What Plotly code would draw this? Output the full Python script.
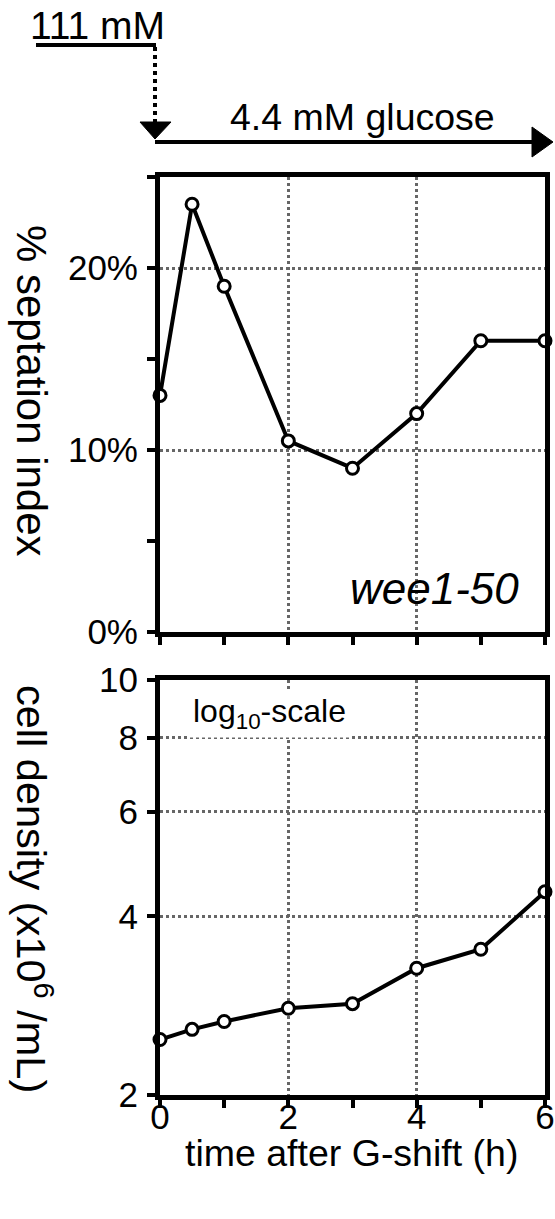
import plotly.graph_objects as go
import math

# ---- data ----
time_h = [0, 0.5, 1, 2, 3, 4, 5, 6]
septation_pct = [13, 23.5, 19, 10.5, 9, 12, 16, 16]
cell_density = [2.48, 2.58, 2.66, 2.80, 2.85, 3.27, 3.52, 4.40]

sept_tickvals = [0, 10, 20]
sept_ticktext = ["0%", "10%", "20%"]
dens_tickvals = [2, 4, 6, 8, 10]
dens_ticktext = ["2", "4", "6", "8", "10"]
time_tickvals = [0, 2, 4, 6]
time_ticktext = ["0", "2", "4", "6"]

FONT = "Liberation Sans, Arial, Helvetica, sans-serif"
W, H = 555, 1219
L, R, T, B = 160, 10, 177, 124
PW, PH = W - L - R, H - T - B


def px(xp):
    return (xp - L) / PW


def py(yp):
    return (H - B - yp) / PH


line_style = dict(color="black", width=4)
marker_style = dict(symbol="circle", size=12, color="white", line=dict(color="black", width=3))

fig = go.Figure()
fig.add_trace(go.Scatter(x=time_h, y=septation_pct, mode="lines+markers", line=line_style,
                         marker=marker_style, xaxis="x", yaxis="y", cliponaxis=False,
                         showlegend=False))
fig.add_trace(go.Scatter(x=time_h, y=cell_density, mode="lines+markers", line=line_style,
                         marker=marker_style, xaxis="x2", yaxis="y2", cliponaxis=False,
                         showlegend=False))

axis_common = dict(showline=True, linecolor="black", linewidth=5, mirror=True,
                   ticks="outside", ticklen=8, tickwidth=4, tickcolor="black",
                   gridcolor="#666666", gridwidth=3, griddash="dot", zeroline=False,
                   automargin=False,
                   tickfont=dict(family=FONT, size=35, color="black"))

minor_x = dict(dtick=1, tick0=0, ticks="outside", ticklen=8, tickwidth=4,
               tickcolor="black", showgrid=False)

top_dom = [py(632), 1]
bot_dom = [0, py(680)]

fig.update_layout(
    width=W, height=H,
    margin=dict(l=L, r=R, t=T, b=B, autoexpand=False),
    paper_bgcolor="white", plot_bgcolor="white",
    font=dict(family=FONT, color="black"),
    xaxis=dict(axis_common, anchor="y", domain=[0, 1], range=[0, 6], tickvals=time_tickvals,
               showticklabels=False, showgrid=True, minor=minor_x),
    yaxis=dict(axis_common, anchor="x", domain=top_dom, range=[0, 25], tickvals=sept_tickvals,
               ticktext=sept_ticktext, showgrid=True, ticklabelstandoff=2,
               minor=dict(dtick=5, tick0=0, ticks="outside", ticklen=8, tickwidth=4,
                          tickcolor="black", showgrid=False)),
    xaxis2=dict(axis_common, anchor="y2", domain=[0, 1], range=[0, 6], tickvals=time_tickvals,
                ticktext=time_ticktext, showgrid=True, minor=minor_x, ticklabelstandoff=-21),
    yaxis2=dict(axis_common, anchor="x2", domain=bot_dom, type="log",
                range=[math.log10(2), 1], tickvals=dens_tickvals, ticktext=dens_ticktext,
                showgrid=True, ticklabelstandoff=2),
)

# ---- treatment diagram (decoration) ----
shapes = []
shapes.append(dict(type="line", xref="paper", yref="paper", x0=px(36), x1=px(156),
                   y0=py(45), y1=py(45), line=dict(color="black", width=4)))
shapes.append(dict(type="line", xref="paper", yref="paper", x0=px(155), x1=px(155),
                   y0=py(47), y1=py(124), line=dict(color="black", width=4, dash="dot")))
shapes.append(dict(type="path", xref="paper", yref="paper",
                   path=f"M {px(140)} {py(122)} L {px(171)} {py(122)} L {px(155)} {py(139)} Z",
                   fillcolor="black", line=dict(color="black", width=1)))
shapes.append(dict(type="line", xref="paper", yref="paper", x0=px(155), x1=px(536),
                   y0=py(142), y1=py(142), line=dict(color="black", width=4)))
shapes.append(dict(type="path", xref="paper", yref="paper",
                   path=f"M {px(532)} {py(127)} L {px(532)} {py(157)} L {px(553)} {py(142)} Z",
                   fillcolor="black", line=dict(color="black", width=1)))
fig.update_layout(shapes=shapes)

ann = []
ann.append(dict(text="111 mM", xref="paper", yref="paper", x=px(97), y=py(25),
                xanchor="center", yanchor="middle", showarrow=False,
                font=dict(family=FONT, size=39, color="black")))
ann.append(dict(text="4.4 mM glucose", xref="paper", yref="paper", x=px(362), y=py(117),
                xanchor="center", yanchor="middle", showarrow=False,
                font=dict(family=FONT, size=37.5, color="black")))
ann.append(dict(text="<i>wee1-50</i>", xref="paper", yref="paper", x=px(434), y=py(588),
                xanchor="center", yanchor="middle", showarrow=False,
                font=dict(family=FONT, size=44, color="black")))
ann.append(dict(text="log<sub>10</sub>-scale", xref="paper", yref="paper", x=px(269), y=py(714),
                xanchor="center", yanchor="middle", showarrow=False, bgcolor="white",
                borderpad=3, font=dict(family=FONT, size=32, color="black")))
ann.append(dict(text="% septation index", xref="paper", yref="paper", x=px(32), y=py(391),
                xanchor="center", yanchor="middle", showarrow=False, textangle=90,
                font=dict(family=FONT, size=42, color="black")))
ann.append(dict(text="cell density (x10<sup>6</sup> /mL)", xref="paper", yref="paper",
                x=px(34), y=py(889), xanchor="center", yanchor="middle", showarrow=False,
                textangle=90, font=dict(family=FONT, size=41.5, color="black")))
ann.append(dict(text="time after G-shift (h)", xref="paper", yref="paper", x=px(351), y=py(1153),
                xanchor="center", yanchor="middle", showarrow=False,
                font=dict(family=FONT, size=37.5, color="black")))
fig.update_layout(annotations=ann)

fig.write_html("out.html", config={"displayModeBar": False},
               post_script="document.body.style.margin='0';")
